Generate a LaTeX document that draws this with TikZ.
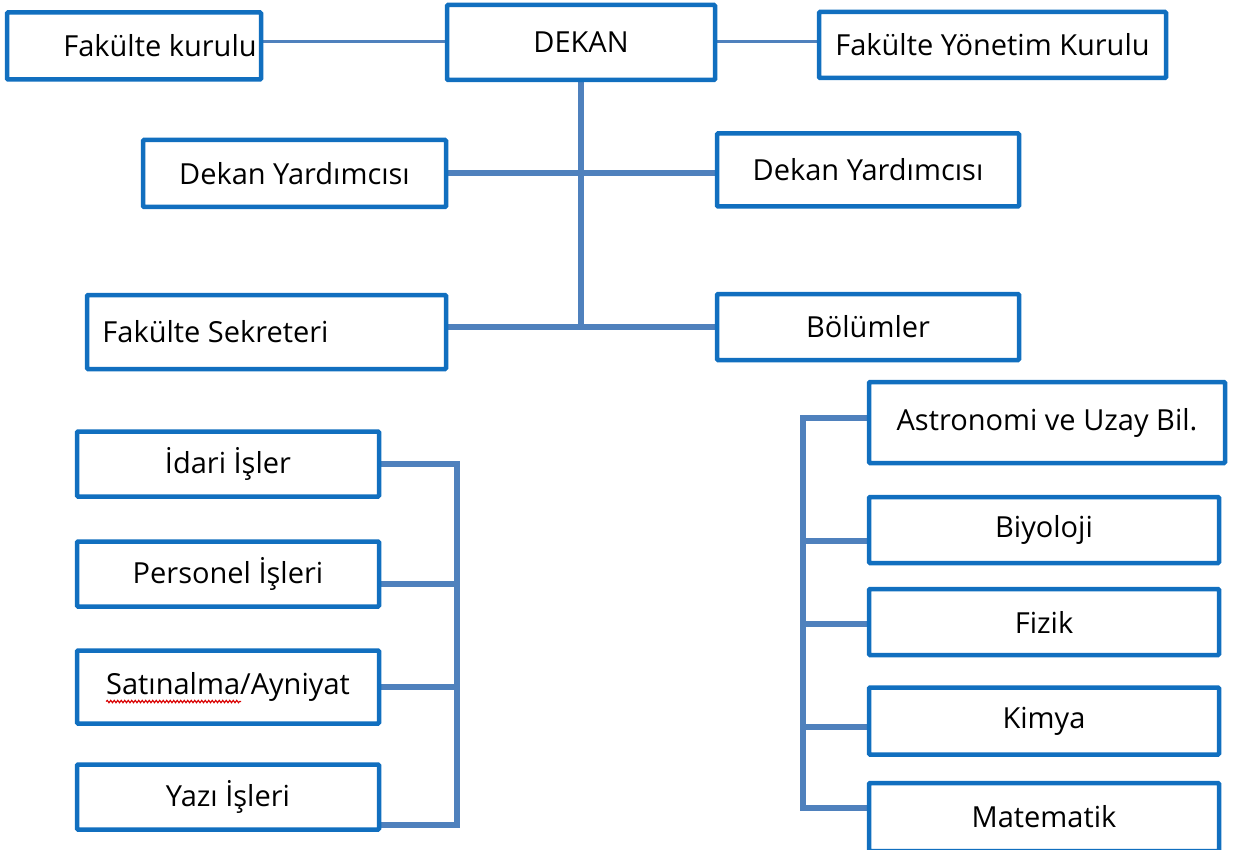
\documentclass[tikz,border=0pt]{standalone}
\usepackage{fontspec}
\setmainfont{Open Sans}
\usetikzlibrary{backgrounds,decorations.pathmorphing}

\definecolor{boxblue}{RGB}{17,111,191}
\definecolor{linkblue}{RGB}{79,129,189}

\tikzset{
  box/.style={draw=boxblue,line width=4.5pt,fill=white,rounded corners=1pt,inner sep=4pt,
    font=\fontsize{29}{35}\selectfont},
  link/.style={draw=linkblue,line width=6pt},
  thinlink/.style={draw=linkblue,line width=3pt},
  spellwave/.style={draw=red!85!black,line width=1.1pt,decorate,
    decoration={snake,amplitude=1.2pt,segment length=3.5pt}},
}

\begin{document}
\begin{tikzpicture}[x=1pt,y=-1pt]
\useasboundingbox (0,0) rectangle (1241,850);
% top row
\node[box,minimum width=254,minimum height=67] (kurul) at (134,46) {\kern52pt Fakülte kurulu};
\node[box,minimum width=268,minimum height=75] (dekan) at (581,42.5) {DEKAN};
\node[box,minimum width=347,minimum height=66] (yonetim) at (992.5,45) {Fakülte Yönetim Kurulu};
% yardimcilar
\node[box,minimum width=303,minimum height=67] (dyl) at (294.5,173.5) {Dekan Yardımcısı};
\node[box,minimum width=302,minimum height=73] (dyr) at (868,170) {Dekan Yardımcısı};
% sekreter / bolumler
\node[box,minimum width=359,minimum height=74] (sekreter) at (266.5,332) {Fakülte Sekreteri\kern102pt};
\node[box,minimum width=302,minimum height=66] (bolum) at (868,327) {Bölümler};
% idari birimler
\node[box,minimum width=302,minimum height=65] (idari) at (228,464) {İdari İşler};
\node[box,minimum width=302,minimum height=65] (personel) at (228,574) {Personel İşleri};
\node[box,minimum width=302,minimum height=73] (satin) at (228,687) {Satınalma/Ayniyat};
\node[box,minimum width=302,minimum height=65] (yazi) at (228,797) {Yazı İşleri};
% bolumler
\node[box,minimum width=356,minimum height=81] (astro) at (1047,422.5) {Astronomi ve Uzay Bil.};
\node[box,minimum width=350,minimum height=66] (bio) at (1044,530) {Biyoloji};
\node[box,minimum width=350,minimum height=66] (fizik) at (1044,622) {Fizik};
\node[box,minimum width=350,minimum height=67] (kimya) at (1044,721) {Kimya};
\node[box,minimum width=350,minimum height=68] (mat) at (1044,817) {Matematik};

% red spell-check wave under Satinalma
\draw[spellwave] ([yshift=-7pt]satin.text) -- ++(135,0);

\coordinate (hub) at (581,327);
\coordinate (lbus) at (457,0);
\coordinate (rbus) at (803,0);

% connectors
\begin{scope}[on background layer]
\draw[thinlink] ([yshift=4pt]kurul.east) -- ([yshift=4pt]kurul.east -| dekan.west);
\draw[thinlink] ([yshift=1pt]dekan.east) -- ([yshift=1pt]dekan.east -| yonetim.west);
\draw[link] (dekan.south) -- (hub);
\draw[link] (dyl.east) -- (dyl.east -| dyr.west);
\draw[link] (sekreter.east |- hub) -- (bolum.west |- hub);
\draw[link] (idari.east) -- (idari.east -| lbus) -- ([yshift=-28pt]yazi.east -| lbus) -- ([yshift=-28pt]yazi.east);
\draw[link] ([yshift=-10pt]personel.east) -- ([yshift=-10pt]personel.east -| lbus);
\draw[link] (satin.east) -- (satin.east -| lbus);
\draw[link] ([yshift=5pt]astro.west) -- ([yshift=5pt]astro.west -| rbus) -- ([yshift=9pt]mat.west -| rbus) -- ([yshift=9pt]mat.west);
\draw[link] ([yshift=-11pt]bio.west) -- ([yshift=-11pt]bio.west -| rbus);
\draw[link] ([yshift=-2pt]fizik.west) -- ([yshift=-2pt]fizik.west -| rbus);
\draw[link] ([yshift=-6pt]kimya.west) -- ([yshift=-6pt]kimya.west -| rbus);
\end{scope}
\end{tikzpicture}
\end{document}
